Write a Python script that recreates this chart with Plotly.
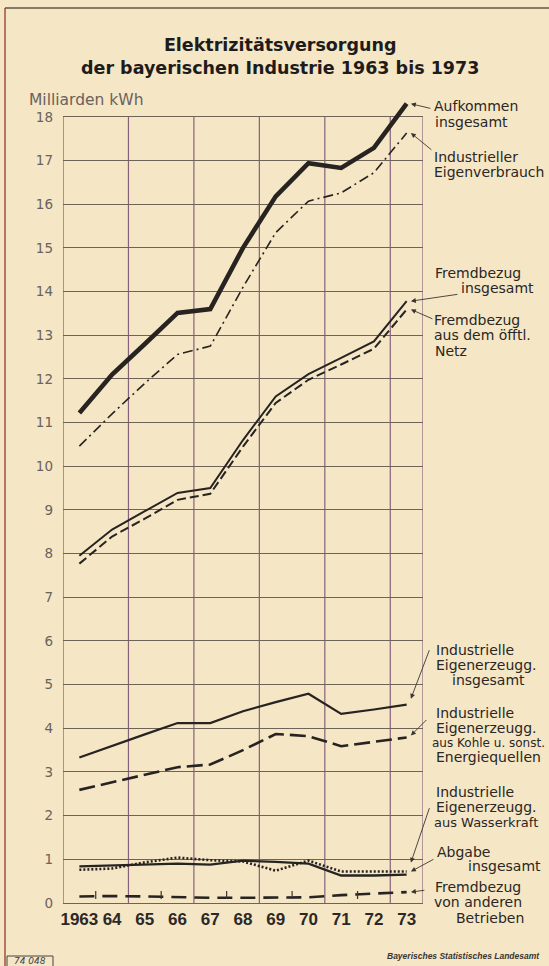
import plotly.graph_objects as go

# ---------------- data ----------------
years = [1963, 1964, 1965, 1966, 1967, 1968, 1969, 1970, 1971, 1972, 1973]
year_labels = ["1963", "64", "65", "66", "67", "68", "69", "70", "71", "72", "73"]

aufkommen = [11.22, 12.1, 12.8, 13.51, 13.6, 15.0, 16.18, 16.94, 16.83, 17.29, 18.3]
eigenverbrauch = [10.46, 11.2, 11.9, 12.56, 12.75, 14.1, 15.35, 16.07, 16.26, 16.72, 17.63]
fremd_ins = [7.95, 8.55, 8.97, 9.39, 9.5, 10.6, 11.6, 12.11, 12.48, 12.86, 13.78]
fremd_netz = [7.77, 8.39, 8.8, 9.23, 9.37, 10.45, 11.45, 11.98, 12.33, 12.69, 13.59]
eigenerz_ins = [3.33, 3.6, 3.86, 4.12, 4.12, 4.39, 4.6, 4.79, 4.33, 4.43, 4.54]
eigenerz_kohle = [2.59, 2.76, 2.94, 3.11, 3.17, 3.5, 3.87, 3.82, 3.59, 3.69, 3.79]
eigenerz_wasser = [0.84, 0.86, 0.88, 0.9, 0.88, 0.97, 0.94, 0.9, 0.63, 0.63, 0.65]
abgabe = [0.76, 0.79, 0.93, 1.04, 0.98, 0.95, 0.74, 0.97, 0.72, 0.72, 0.72]
fremd_betriebe = [0.15, 0.16, 0.15, 0.13, 0.12, 0.12, 0.12, 0.13, 0.18, 0.21, 0.25]

y_ticks = list(range(0, 19))
grid_x = [1962.5, 1964.5, 1966.5, 1968.5, 1970.5, 1972.5, 1973.5]
minor_tick_x = [1963.5, 1965.5, 1967.5, 1969.5, 1971.5]

# ---------------- geometry helpers (pixel -> paper) ----------------
W, H = 549, 966
ML, MR, MT, MB = 63, 126, 95, 63
PW, PH = W - ML - MR, H - MT - MB


def px(xp):
    return (xp - ML) / PW


def py(yp):
    return (H - MB - yp) / PH


INK = "#262321"
BG = "#f5e6c6"

fig = go.Figure()

series = [
    (aufkommen, 4.6, "solid"),
    (eigenverbrauch, 1.6, "10px,4px,2px,4px"),
    (fremd_ins, 2.0, "solid"),
    (fremd_netz, 2.0, "9px,4px"),
    (eigenerz_ins, 2.2, "solid"),
    (eigenerz_kohle, 2.6, "16px,6px"),
    (eigenerz_wasser, 2.3, "solid"),
    (abgabe, 2.6, "2px,2px"),
    (fremd_betriebe, 2.6, "15px,8px"),
]
for vals, w, dash in series:
    fig.add_trace(go.Scatter(
        x=years, y=vals, mode="lines",
        line=dict(color=INK, width=w, dash=dash),
        showlegend=False, hoverinfo="skip",
    ))

# vertical grid lines / frame of plot
for i, gx in enumerate(grid_x):
    fig.add_shape(type="line", xref="x", yref="y", x0=gx, x1=gx, y0=0, y1=18,
                  line=dict(color="#6d6357" if i == 0 else "#86627a", width=1.2),
                  layer="below")
# small inside tick marks on the time axis
for mx in minor_tick_x:
    fig.add_shape(type="line", xref="x", yref="paper", x0=mx, x1=mx,
                  y0=py(891), y1=py(899), line=dict(color="#3a3532", width=1.2))

# page frame
fig.add_shape(type="line", xref="paper", yref="paper", x0=px(5), x1=px(5),
              y0=py(8), y1=py(H + 5), line=dict(color="#a85a44", width=1.6))
fig.add_shape(type="line", xref="paper", yref="paper", x0=px(5), x1=px(W + 5),
              y0=py(8), y1=py(8), line=dict(color="#5f554c", width=1.6))
# footer box
fig.add_shape(type="rect", xref="paper", yref="paper", x0=px(7), x1=px(53),
              y0=py(972), y1=py(956), line=dict(color="#444", width=1))

ann = []
# title
ann.append(dict(text="Elektrizitätsversorgung<br>der bayerischen Industrie 1963 bis 1973",
                x=px(280), y=py(57), xref="paper", yref="paper",
                xanchor="center", yanchor="middle", showarrow=False,
                font=dict(family="DejaVu Sans", size=17.5, color="#1e1c1a", weight="bold")))
ann.append(dict(text="Milliarden kWh", x=px(27), y=py(100), xref="paper", yref="paper",
                xanchor="left", yanchor="middle", showarrow=False,
                font=dict(family="DejaVu Sans", size=15.5, color="#6a625c")))

# right-hand labels: (text, x_px, y_px, anchor, size)
labels = [
    ("Aufkommen", 432, 106, "left", 14),
    ("insgesamt", 433, 122, "left", 14),
    ("Industrieller", 432, 157, "left", 14),
    ("Eigenverbrauch", 432, 171.5, "left", 14),
    ("Fremdbezug", 433, 273, "left", 14),
    ("insgesamt", 536, 288, "right", 14),
    ("Fremdbezug", 432, 320, "left", 14),
    ("aus dem öfftl.", 432, 335, "left", 14),
    ("Netz", 433, 350.5, "left", 14),
    ("Industrielle", 434, 650, "left", 14),
    ("Eigenerzeugg.", 434, 665, "left", 14),
    ("insgesamt", 527, 680, "right", 14),
    ("Industrielle", 434, 713, "left", 14),
    ("Eigenerzeugg.", 434, 728, "left", 14),
    ("aus Kohle u. sonst.", 430, 743, "left", 12),
    ("Energiequellen", 434, 757, "left", 14),
    ("Industrielle", 434, 792, "left", 14),
    ("Eigenerzeugg.", 434, 807, "left", 14),
    ("aus Wasserkraft", 432, 822, "left", 13),
    ("Abgabe", 435, 852, "left", 14),
    ("insgesamt", 466, 866, "left", 14),
    ("Fremdbezug", 433, 887, "left", 14),
    ("von anderen", 432, 902, "left", 14),
    ("Betrieben", 454, 917.5, "left", 14),
]
for t, x, y, a, s in labels:
    ann.append(dict(text=t, x=px(x), y=py(y), xref="paper", yref="paper",
                    xanchor=a, yanchor="middle", showarrow=False,
                    font=dict(family="DejaVu Sans", size=s, color="#2a2724")))

# leader arrows: (series, ax, ay, yshift)
arrows = [
    (aufkommen, 21, 5, 0),
    (eigenverbrauch, 22, 18, 0),
    (fremd_ins, 48, -7, 0),
    (fremd_netz, 23, 10, 0),
    (eigenerz_ins, 19, -50, 6),
    (eigenerz_kohle, 17, -17, 2),
    (eigenerz_wasser, 19, -56, 12),
    (abgabe, 24, -13, 0),
    (fremd_betriebe, 15, -2, 0),
]
for vals, ax, ay, ys in arrows:
    ann.append(dict(text="", x=years[-1] + 0.13, y=vals[-1], xref="x", yref="y",
                    ax=ax, ay=ay, showarrow=True, arrowhead=2, arrowsize=1.1,
                    arrowwidth=0.9, arrowcolor="#3a3532", standoff=0, yshift=ys))

# footer texts
ann.append(dict(text="74 048", x=px(30), y=py(961), xref="paper", yref="paper",
                xanchor="center", yanchor="middle", showarrow=False,
                font=dict(family="DejaVu Sans", size=9, color="#444", style="italic")))
ann.append(dict(text="<b>Bayerisches Statistisches Landesamt</b>", x=px(542), y=py(956),
                xref="paper", yref="paper", xanchor="right", yanchor="middle",
                showarrow=False,
                font=dict(family="Liberation Sans", size=8.5, color="#3a3532", style="italic")))

fig.update_layout(
    width=W, height=H, autosize=False,
    margin=dict(l=ML, r=MR, t=MT, b=MB, pad=0),
    paper_bgcolor=BG, plot_bgcolor=BG,
    annotations=ann,
    xaxis=dict(
        range=[1962.5, 1973.5], tickmode="array", tickvals=years, ticktext=year_labels,
        showgrid=False, zeroline=False, showline=True, linecolor="#6d6357", linewidth=1.3,
        ticks="", ticklabelstandoff=0,
        tickfont=dict(family="Liberation Sans", size=17, color="#2b2826", weight="bold"),
        fixedrange=True,
    ),
    yaxis=dict(
        range=[0, 18.5], tickmode="array", tickvals=y_ticks,
        ticktext=[str(v) for v in y_ticks],
        showgrid=True, gridcolor="#6d6357", gridwidth=1.2, zeroline=False,
        showline=False, ticks="", ticklabelstandoff=9,
        tickfont=dict(family="DejaVu Sans", size=13.5, color="#6a625c"),
        fixedrange=True,
    ),
)

fig.write_html("out.html", config={"displayModeBar": False},
               post_script="document.body.style.margin='0';")
